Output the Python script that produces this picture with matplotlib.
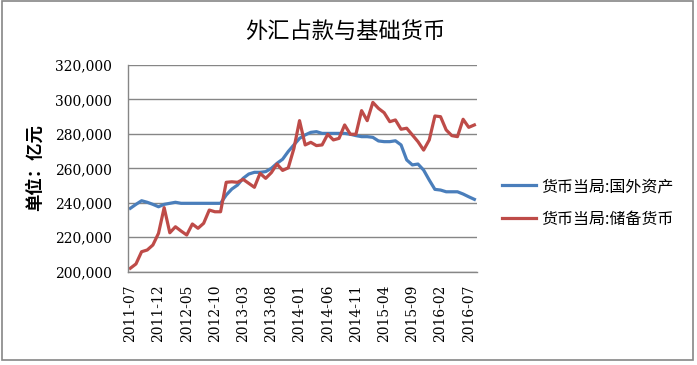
import matplotlib
matplotlib.use("Agg")
import matplotlib.pyplot as plt
from matplotlib.patches import Rectangle
from matplotlib.ticker import FuncFormatter
import pandas as pd

months = pd.date_range("2011-07-01", periods=62, freq="MS").strftime("%Y-%m").tolist()

foreign_assets = [
    236800, 239100, 241200, 240300, 239100, 237700, 239100, 239700, 240300, 239700,
    239700, 239700, 239700, 239700, 239700, 239700, 239700, 244500, 248000, 250300,
    254200, 256700, 257700, 257700, 258100, 260000, 262900, 265300, 269800, 273600,
    277400, 279400, 280900, 281300, 280300, 280300, 280300, 280300, 280300, 279800,
    279000, 278400, 278400, 278000, 275900, 275500, 275500, 276000, 273600, 264900,
    262000, 262500, 259000, 253200, 247800, 247400, 246400, 246400, 246400, 245100,
    243500, 242000,
]

reserve_money = [
    202000, 204500, 211600, 212600, 215500, 222300, 237200, 222600, 226100, 223600,
    221300, 227700, 225200, 228100, 235800, 234800, 234800, 251900, 252200, 251900,
    253600, 251300, 249000, 257100, 254200, 257500, 262500, 258800, 260300, 271500,
    287700, 273600, 275100, 273200, 273600, 279800, 276500, 277400, 285200, 279800,
    279800, 293500, 287700, 298300, 294800, 292300, 287100, 288100, 282700, 283300,
    279400, 275500, 270600, 276500, 290400, 290000, 282300, 279000, 278400, 288500,
    283800, 285200,
]

series_names = ["货币当局:国外资产", "货币当局:储备货币"]
title_text = "外汇占款与基础货币"
ylabel_text = "单位：亿元"
yticks = [200000, 220000, 240000, 260000, 280000, 300000, 320000]

cjk = ["Noto Sans CJK SC", "DejaVu Sans"]
grey = "#868686"

fig = plt.figure(figsize=(6.97, 3.65), dpi=100)
ax = fig.add_axes([127.5 / 697, 1 - 271.7 / 365, (477.2 - 127.5) / 697, (271.7 - 65) / 365])

x = list(range(len(months)))
l1, = ax.plot(x, foreign_assets, color="#4A7EBB", lw=2.3, solid_joinstyle="round")
l2, = ax.plot(x, reserve_money, color="#BE4B48", lw=2.3, solid_joinstyle="round")

ax.set_xlim(-0.5, len(months) - 0.5)
ax.set_ylim(200000, 320000)
ax.set_yticks(yticks)
ax.yaxis.set_major_formatter(FuncFormatter(lambda v, p: f"{int(v):,}"))
ax.grid(axis="y", color=grey, lw=1)
ax.set_axisbelow(True)

tick_pos = x[::5]
ax.set_xticks(tick_pos)
ax.set_xticklabels([months[i] for i in tick_pos], rotation=90)

for lab in ax.get_xticklabels() + ax.get_yticklabels():
    lab.set_fontfamily("DejaVu Serif")
    lab.set_fontsize(10)
ax.tick_params(axis="both", length=0)
ax.tick_params(axis="y", pad=11)
ax.tick_params(axis="x", pad=9)

for s in ["top", "right"]:
    ax.spines[s].set_visible(False)
for s in ["left", "bottom"]:
    ax.spines[s].set_color(grey)
    ax.spines[s].set_linewidth(1)

fig.text(345 / 697, 1 - 31 / 365, title_text, family=cjk, fontsize=16,
         ha="center", va="center")
fig.text(35 / 697, 1 - 168 / 365, ylabel_text, family=cjk, fontsize=12.5,
         fontweight="bold", rotation=90, ha="center", va="center")

fig.legend([l1, l2], series_names, loc="center left",
           bbox_to_anchor=(502 / 697, 1 - 203 / 365), frameon=False,
           prop={"family": cjk, "size": 11.5}, handlelength=2.1,
           handletextpad=0.35, labelspacing=1.0, borderaxespad=0, borderpad=0)

fig.patches.append(Rectangle((2 / 697, 5 / 365), 691 / 697, 359 / 365,
                             transform=fig.transFigure, fill=False,
                             edgecolor=grey, lw=1.2))

fig.savefig("out.png", dpi=100)
